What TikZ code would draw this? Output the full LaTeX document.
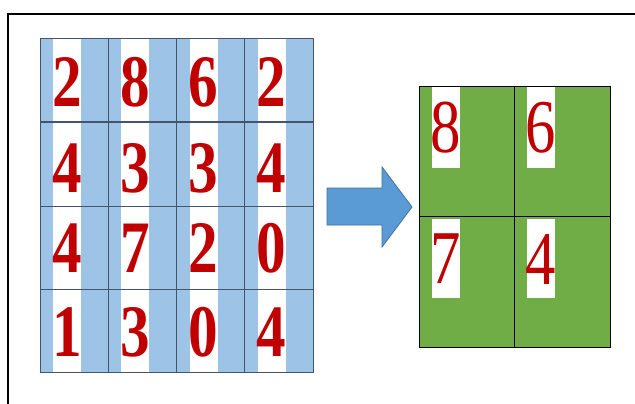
\documentclass[tikz,border=0pt]{standalone}
\usepackage{fontspec}
\usepackage{graphicx}
\setmainfont{Liberation Serif}
\definecolor{stripblue}{HTML}{9DC3E6}
\definecolor{gridline}{HTML}{44546A}
\definecolor{digitred}{HTML}{C00000}
\definecolor{poolgreen}{HTML}{70AD47}
\definecolor{arrowblue}{HTML}{5B9BD5}
\definecolor{arrowedge}{HTML}{41719C}
\tikzset{
  bigdigit/.style={text=digitred, inner sep=0pt,
    font=\rmfamily\bfseries\fontsize{74}{74}\selectfont},
  pooldigit/.style={text=digitred, inner sep=0pt,
    font=\rmfamily\fontsize{76}{76}\selectfont},
}
\newcommand{\narrow}[1]{\scalebox{0.8}[1]{#1}}
\begin{document}
\begin{tikzpicture}[x=1pt,y=-1pt]
\useasboundingbox (0,0) rectangle (635,404);
\fill[white] (0,0) rectangle (635,404);
% frame
\draw[line width=1.2pt] (8,404) -- (8,14) -- (635,14);

% input grid: blue background with white strips
\fill[stripblue] (40,38) rectangle (313,372);
\foreach \c in {0,1,2,3}{
  \fill[white] ({40+68.25*\c+13},38) rectangle ({40+68.25*\c+41},372);
}
\foreach \c in {1,2,3}{
  \draw[gridline, line width=0.6pt] ({40+68.25*\c},38) -- ({40+68.25*\c},372);
}
\draw[gridline, line width=0.6pt] (40,206) -- (313,206);
\draw[gridline, line width=0.6pt] (40,289) -- (313,289);
\draw[gridline, line width=2.6pt] (40,122) -- (313,122);
\draw[gridline, line width=0.7pt] (40,38) rectangle (313,372);

% input values
\foreach \row/\y [count=\r] in {{2,8,6,2}/82,{4,3,3,4}/168,{4,7,2,0}/248,{1,3,0,4}/332}{
  \foreach \v [count=\c] in \row {
    \node[bigdigit] (in-\r-\c) at ({40+68.25*(\c-1)+27},\y) {\narrow{\v}};
  }
}

% arrow
\filldraw[fill=arrowblue, draw=arrowedge, line width=0.8pt, line join=miter]
  (327,188) -- (382,188) -- (382,167) -- (412,207) -- (382,247) -- (382,225) -- (327,225) -- cycle;

% pooled grid
\fill[poolgreen] (419,86) rectangle (610,347);
\fill[white] (432,86) rectangle (460,168);
\fill[white] (527,86) rectangle (555,168);
\fill[white] (432,219) rectangle (460,298);
\fill[white] (527,219) rectangle (555,298);
\draw[black, line width=0.8pt] (514,86) -- (514,347);
\draw[black, line width=0.8pt] (419,216) -- (610,216);
\draw[black, line width=0.9pt] (419,86) rectangle (610,347);

\node[pooldigit] (out-1-1) at (446,128) {\narrow{8}};
\node[pooldigit] (out-1-2) at (541,128) {\narrow{6}};
\node[pooldigit] (out-2-1) at (446,259) {\narrow{7}};
\node[pooldigit] (out-2-2) at (541,259) {\narrow{4}};
\end{tikzpicture}
\end{document}
